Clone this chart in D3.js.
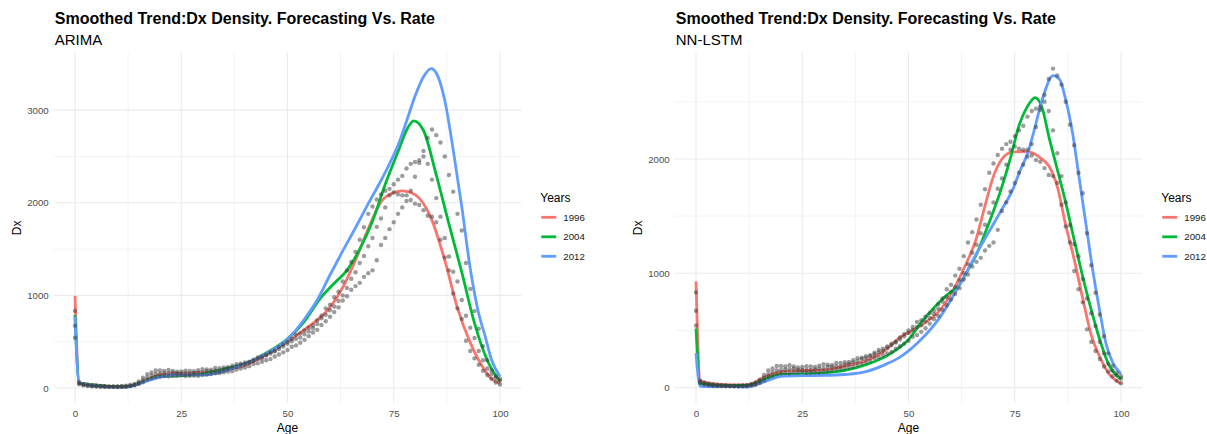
<!DOCTYPE html>
<html>
<head>
<meta charset="utf-8">
<script src="https://cdn.jsdelivr.net/npm/d3@7"></script>
<style>
  body { margin: 0; background: #fff; }
  svg text { font-family: "Liberation Sans", Arial, sans-serif; }
</style>
</head>
<body>
<svg id="chart" width="1207" height="434"></svg>
<script>
// observed Dx (shared by both panels), one value per age 0..100
var ages = d3.range(0, 101);
var dx1996 = [833, 62, 45, 35, 28, 24, 22, 20, 18, 18,
  18, 20, 24, 32, 45, 70, 110, 150, 168, 190,
  190, 185, 196, 185, 176, 180, 188, 185, 182, 192,
  204, 200, 198, 216, 215, 222, 224, 240, 258, 262,
  275, 284, 305, 330, 340, 360, 385, 402, 440, 470,
  500, 530, 575, 590, 620, 650, 675, 730, 780, 860,
  900, 980, 1040, 1150, 1270, 1360, 1470, 1600, 1735, 1880,
  1960, 2035, 2090, 2130, 2150, 2110, 2090, 2080, 2080, 2030,
  1990, 1975, 1920, 1860, 1850, 1790, 1600, 1410, 1270, 1020,
  860, 746, 510, 400, 320, 250, 185, 140, 100, 60, 38];
var dx2004 = [673, 50, 35, 28, 22, 20, 18, 16, 15, 15,
  15, 16, 18, 24, 35, 55, 85, 115, 135, 152,
  155, 160, 162, 166, 158, 155, 155, 152, 160, 165,
  170, 182, 180, 186, 186, 200, 210, 220, 232, 252,
  260, 275, 292, 310, 322, 350, 372, 395, 420, 448,
  478, 505, 530, 545, 580, 610, 645, 690, 752, 790,
  840, 880, 940, 1000, 1080, 1180, 1250, 1350, 1425, 1530,
  1620, 1740, 1830, 1950, 2080, 2200, 2250, 2290, 2370, 2420,
  2440, 2460, 2500, 2420, 2250, 2050, 1850, 1620, 1420, 1255,
  1150, 950, 780, 650, 540, 400, 300, 210, 150, 110, 80];
var dx2012 = [543, 40, 28, 22, 18, 15, 13, 12, 12, 12,
  12, 13, 15, 20, 28, 42, 62, 92, 105, 118,
  125, 130, 126, 133, 132, 136, 130, 132, 135, 132,
  142, 146, 150, 160, 162, 170, 178, 182, 198, 210,
  222, 236, 258, 266, 283, 300, 312, 340, 362, 385,
  410, 445, 460, 488, 520, 560, 600, 628, 680, 720,
  770, 820, 870, 945, 990, 1060, 1100, 1135, 1200, 1240,
  1270, 1380, 1545, 1620, 1715, 1790, 1880, 1950, 2020, 2130,
  2280, 2430, 2560, 2700, 2790, 2730, 2650, 2500, 2300, 2120,
  1880, 1700, 1350, 1070, 830, 640, 450, 300, 190, 130, 100];

// smoothed trends [age, Dx]
var arima1996 = [[0,995],[1,55],[4,38],[8,18],[12,12],[16,70],[20,143],[25,161],[30,165],[35,197],[40,245],[45,360],[50,502],[55,665],[60,870],[63,1085],[66,1380],[69,1718],[72,2010],[75,2110],[77,2128],[79,2110],[81,2050],[84,1810],[87,1380],[90,863],[93,490],[96,222],[98,100],[100,50]];
var arima2004 = [[0,790],[1,53],[4,35],[8,16],[12,12],[16,65],[20,125],[25,133],[30,150],[35,204],[40,262],[45,377],[50,530],[54,720],[57.5,955],[61,1130],[64,1270],[67,1500],[70,1800],[73,2200],[76,2550],[78,2783],[79.7,2884],[82,2780],[85,2300],[88,1770],[91,1250],[94,700],[97,300],[100,70]];
var arima2012 = [[0,772],[1,50],[4,30],[8,12],[12,10],[16,60],[20,118],[25,143],[30,140],[35,180],[40,262],[45,370],[50,525],[54,745],[57,950],[60,1220],[63,1480],[66,1730],[69,1990],[72,2240],[74,2420],[76,2620],[78,2880],[80,3150],[82,3360],[83.8,3448],[85,3400],[87,3107],[89,2568],[91,1960],[93,1290],[95,800],[96.5,560],[98,305],[100,125]];
var lstm1996 = [[0,929],[1,60],[4,35],[8,25],[12,25],[16,90],[20,141],[25,150],[30,156],[35,190],[40,238],[45,340],[48,440],[51,500],[54,570],[57,660],[60,820],[63,1040],[66,1310],[68,1590],[70,1850],[72,2000],[74,2055],[77,2065],[79,2055],[81,2010],[83,1940],[85,1760],[87,1420],[89,1120],[91,780],[93,460],[95,270],[97,130],[100,35]];
var lstm2004 = [[0,517],[1,35],[4,25],[8,20],[12,20],[16,70],[20,116],[25,120],[30,127],[35,150],[40,200],[45,280],[48,354],[50,420],[53,570],[56,700],[59,810],[62,900],[64,1030],[66,1167],[68,1350],[70,1544],[72,1760],[74,2010],[76,2290],[78,2460],[79.8,2537],[81.5,2440],[83,2200],[85,1910],[87,1617],[89,1290],[91,970],[93,680],[95,420],[97,210],[100,75]];
var lstm2012 = [[0,301],[1,12],[4,8],[8,10],[12,5],[16,50],[20,98],[25,105],[30,107],[35,115],[40,140],[45,210],[48,267],[52.7,412],[57.4,615],[62.1,906],[66.8,1225],[71.5,1530],[74.7,1747],[76.2,1893],[78.2,2067],[79.4,2227],[81.7,2546],[84,2729],[85.5,2700],[87,2517],[88.6,2227],[90.2,1823],[91.7,1443],[93.3,1040],[94.9,690],[96.4,397],[98,223],[100,120]];

var years = ["1996", "2004", "2012"];
var colors = ["#F8766D", "#00BA38", "#619CFF"];
var xTicks = [0, 25, 50, 75, 100];
var xMinor = [12.5, 37.5, 62.5, 87.5];

var title = "Smoothed Trend:Dx Density. Forecasting Vs. Rate";

function drawPanel(opts) {
  var svg = d3.select("#chart");
  var g = svg.append("g");
  var top = 52.7, bottom = 403;

  var x = d3.scaleLinear().domain([-5, 105]).range([opts.left, opts.left + 467.5]);

  var allVals = dx1996.concat(dx2004, dx2012);
  opts.lines.forEach(function(l) { l.forEach(function(d) { allVals.push(d[1]); }); });
  var lo = d3.min(allVals), hi = d3.max(allVals), pad = (hi - lo) * 0.05;
  var y = d3.scaleLinear().domain([lo - pad, hi + pad]).range([bottom, top]);

  // grid
  opts.yMinor.forEach(function(v) {
    g.append("line").attr("x1", x(-5)).attr("x2", x(105)).attr("y1", y(v)).attr("y2", y(v))
      .attr("stroke", "#EBEBEB").attr("stroke-width", 0.6);
  });
  xMinor.forEach(function(v) {
    g.append("line").attr("x1", x(v)).attr("x2", x(v)).attr("y1", top).attr("y2", bottom)
      .attr("stroke", "#EBEBEB").attr("stroke-width", 0.6);
  });
  opts.yTicks.forEach(function(v) {
    g.append("line").attr("x1", x(-5)).attr("x2", x(105)).attr("y1", y(v)).attr("y2", y(v))
      .attr("stroke", "#EBEBEB").attr("stroke-width", 1.1);
  });
  xTicks.forEach(function(v) {
    g.append("line").attr("x1", x(v)).attr("x2", x(v)).attr("y1", top).attr("y2", bottom)
      .attr("stroke", "#EBEBEB").attr("stroke-width", 1.1);
  });

  // axes (labels only, like theme_minimal)
  var xAxis = g.append("g").attr("transform", "translate(0," + bottom + ")")
    .call(d3.axisBottom(x).tickValues(xTicks).tickSize(0).tickPadding(7));
  var yAxis = g.append("g").attr("transform", "translate(" + x(-5) + ",0)")
    .call(d3.axisLeft(y).tickValues(opts.yTicks).tickSize(0).tickPadding(5).tickFormat(d3.format("d")));
  [xAxis, yAxis].forEach(function(a) {
    a.select(".domain").remove();
    a.selectAll("text").attr("fill", "#4D4D4D").style("font-size", "9.7px")
      .style("font-family", "Liberation Sans, Arial, sans-serif");
  });

  // lines
  var line = d3.line()
    .x(function(d) { return x(d[0]); })
    .y(function(d) { return y(d[1]); })
    .curve(d3.curveMonotoneX);
  opts.lines.forEach(function(l, i) {
    g.append("path").datum(l)
      .attr("fill", "none").attr("stroke", colors[i]).attr("stroke-width", 2.8)
      .attr("stroke-linejoin", "round")
      .attr("d", line);
  });

  // observed points
  [dx1996, dx2004, dx2012].forEach(function(s) {
    g.selectAll(null).data(s).enter().append("circle")
      .attr("cx", function(d, i) { return x(ages[i]); })
      .attr("cy", function(d) { return y(d); })
      .attr("r", 2.2)
      .attr("fill", "#3a3a3a")
      .attr("opacity", 0.5);
  });

  // titles
  g.append("text").attr("x", opts.left + 1).attr("y", 24)
    .style("font-size", "16px").style("font-weight", "bold").text(title);
  g.append("text").attr("x", opts.left + 1).attr("y", 44.5)
    .style("font-size", "15px").text(opts.subtitle);
  g.append("text").attr("x", (x(-5) + x(105)) / 2).attr("y", 432)
    .attr("text-anchor", "middle").style("font-size", "12px").text("Age");
  g.append("text").attr("transform", "translate(" + (opts.left - 33) + "," + ((top + bottom) / 2) + ") rotate(-90)")
    .attr("text-anchor", "middle").style("font-size", "12px").text("Dx");

  // legend
  var lg = g.append("g").attr("transform", "translate(" + (x(105) + 19) + ",0)");
  lg.append("text").attr("x", 0).attr("y", 202).style("font-size", "12px").text("Years");
  years.forEach(function(yr, i) {
    var yy = 217.3 + i * 19.5;
    lg.append("line").attr("x1", 1).attr("x2", 16).attr("y1", yy).attr("y2", yy)
      .attr("stroke", colors[i]).attr("stroke-width", 2.8);
    lg.append("text").attr("x", 23).attr("y", yy + 3.4).style("font-size", "9.7px")
      .attr("fill", "#1a1a1a").text(yr);
  });
}

drawPanel({ left: 53.75, subtitle: "ARIMA", lines: [arima1996, arima2004, arima2012],
  yTicks: [0, 1000, 2000, 3000], yMinor: [500, 1500, 2500] });
drawPanel({ left: 674.75, subtitle: "NN-LSTM", lines: [lstm1996, lstm2004, lstm2012],
  yTicks: [0, 1000, 2000], yMinor: [500, 1500, 2500] });
</script>
</body>
</html>
